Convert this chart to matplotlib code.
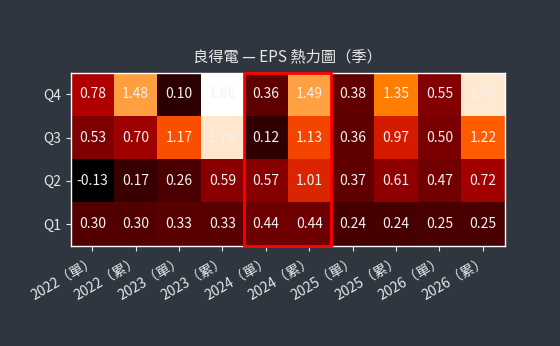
import numpy as np
import matplotlib
matplotlib.use("Agg")
import matplotlib.pyplot as plt
from matplotlib.patches import Rectangle

plt.rcParams['font.family'] = ['Noto Sans CJK TC', 'DejaVu Sans']

BG = "#2f3640"
columns = ["2022（單）", "2022（累）", "2023（單）", "2023（累）", "2024（單）",
           "2024（累）", "2025（單）", "2025（累）", "2026（單）", "2026（累）"]
quarters = ["Q1", "Q2", "Q3", "Q4"]
q1 = [0.30, 0.30, 0.33, 0.33, 0.44, 0.44, 0.24, 0.24, 0.25, 0.25]
q2 = [-0.13, 0.17, 0.26, 0.59, 0.57, 1.01, 0.37, 0.61, 0.47, 0.72]
q3 = [0.53, 0.70, 1.17, 1.76, 0.12, 1.13, 0.36, 0.97, 0.50, 1.22]
q4 = [0.78, 1.48, 0.10, 1.86, 0.36, 1.49, 0.38, 1.35, 0.55, 1.77]
highlight = ["2024（單）", "2024（累）"]

data = np.array([q1, q2, q3, q4])

fig = plt.figure(figsize=(5.6, 3.46), dpi=100, facecolor=BG)
ax = fig.add_axes([0.126, 0.29, 0.775, 0.5])
ax.set_facecolor(BG)

ax.pcolormesh(np.arange(len(columns) + 1), np.arange(len(quarters) + 1), data,
              cmap="gist_heat", vmin=data.min(), vmax=data.max())
for i in range(len(quarters)):
    for j in range(len(columns)):
        ax.text(j + 0.5, i + 0.5, f"{data[i, j]:.2f}", ha="center", va="center",
                color="#f2f2f2", fontsize=10)

# highlight current year
j0 = columns.index(highlight[0])
ax.add_patch(Rectangle((j0, 0), len(highlight), len(quarters), fill=False,
                       edgecolor="#ff0000", linewidth=2, clip_on=False, zorder=5))

ax.set_xlim(0, len(columns))
ax.set_ylim(0, len(quarters))
ax.set_xticks(np.arange(len(columns)) + 0.5)
ax.set_xticklabels(columns, rotation=30, ha="right", rotation_mode="anchor")
ax.set_yticks(np.arange(len(quarters)) + 0.5)
ax.set_yticklabels(quarters)
ax.tick_params(colors="#e8e8e8", labelsize=10)
for s in ax.spines.values():
    s.set_color("white")
    s.set_linewidth(1)
ax.set_title("良得電 — EPS 熱力圖（季）", color="#e8e8e8", fontsize=11, pad=8)

fig.savefig("out.png", dpi=100, facecolor=BG)
